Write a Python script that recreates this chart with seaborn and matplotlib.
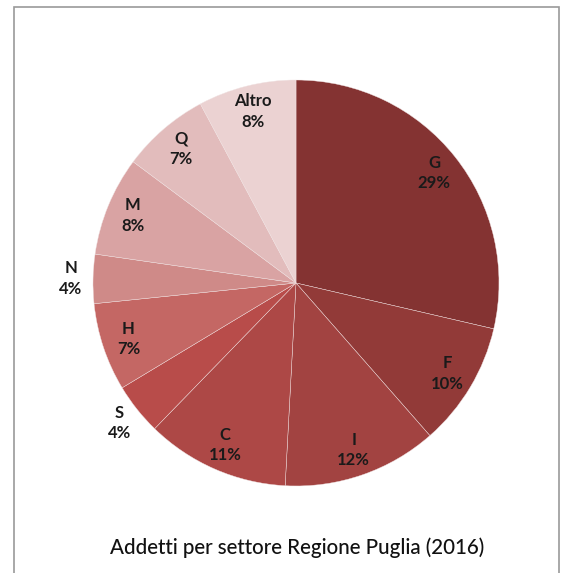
import numpy as np
import matplotlib
matplotlib.use("Agg")
import matplotlib.pyplot as plt
import seaborn as sns
from matplotlib.patches import Rectangle

# data (clockwise from 12 o'clock)
sectors = ['G', 'F', 'I', 'C', 'S', 'H', 'N', 'M', 'Q', 'Altro']
shares = [28.6, 9.9, 12.3, 11.4, 4.1, 7.0, 3.9, 7.9, 7.0, 7.8]
outside = ['N', 'S']
colors = ['#843332', '#923a38', '#a24341', '#ad4846', '#b84c4a',
          '#c46764', '#cf8a88', '#d9a3a3', '#e2bcbc', '#ebd2d2']
title = 'Addetti per settore Regione Puglia (2016)'

sns.set_theme(style="white")
plt.rcParams['font.family'] = ['Lato', 'DejaVu Sans']

fig = plt.figure(figsize=(5.66, 5.73), dpi=100)
ax = fig.add_axes([93 / 566, 1 - 486 / 573, 406 / 566, 406 / 573])

wedges, _ = ax.pie(shares, colors=colors, startangle=90, counterclock=False,
                   wedgeprops=dict(edgecolor='#f0e2e2', linewidth=0.3))

# labels: category + rounded percent
for w, name, v in zip(wedges, sectors, shares):
    mid = np.deg2rad((w.theta1 + w.theta2) / 2)
    r = 1.11 if name in outside else 0.87
    ax.text(r * np.cos(mid), r * np.sin(mid), f"{name}\n{v:.0f}%",
            ha='center', va='center', fontsize=12, fontweight='bold',
            color='#1a1a1a', linespacing=1.35)

ax.set_xlim(-1, 1)
ax.set_ylim(-1, 1)
ax.axis('off')

fig.text(0.525, 1 - 548 / 573, title, ha='center', va='center',
         fontsize=14.8, fontweight='medium', color='#111111')

# light frame around the chart area
fig.patches.append(Rectangle((14 / 566, -0.02), 545 / 566, 1.02 - 7 / 573,
                             transform=fig.transFigure, fill=False,
                             edgecolor='#9a9a9a', linewidth=1.2))

fig.savefig('out.png', dpi=100)
